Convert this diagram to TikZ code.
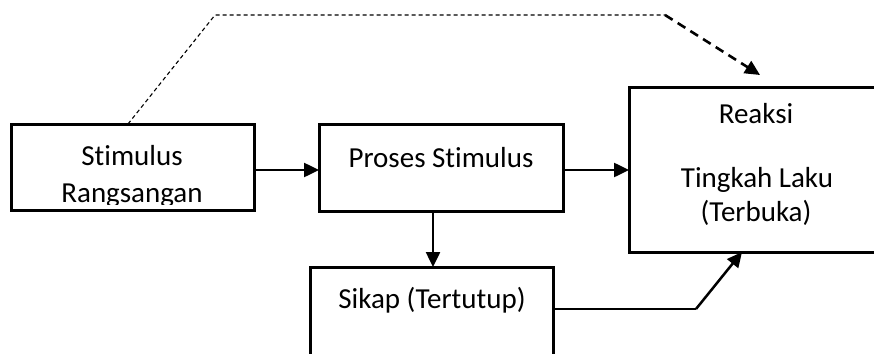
\documentclass[tikz,border=0pt]{standalone}
\usepackage{fontspec}
\setmainfont{Carlito}[Ligatures={NoCommon}]
\usetikzlibrary{arrows.meta}
\begin{document}
\begin{tikzpicture}[x=1pt,y=-1pt,
  box/.style={draw,line width=3pt,rectangle,inner sep=0pt,outer sep=0pt},
  lbl/.style={anchor=base,inner sep=0pt,font=\fontsize{29}{34}\selectfont},
  arr/.style={line width=2.5pt,-{Triangle[length=15pt,width=14pt]}},
  thinl/.style={line width=1.1pt},
  dthin/.style={line width=1.1pt,dash pattern=on 4pt off 3pt},
  darr/.style={line width=2.6pt,dash pattern=on 9pt off 6pt,-{Triangle[length=15pt,width=14pt]}}]
\useasboundingbox (0,0) rectangle (874,353);
\clip (0,0) rectangle (874,353);
% texts
\node[lbl] (t1a) at (132,165) {Stimulus};
\begin{scope}
\clip (0,0) rectangle (874,204);
\node[lbl] (t1b) at (132,202) {Rangsangan};
\end{scope}
\node[lbl] (t2) at (441,167) {Proses Stimulus};
\node[lbl] (t3a) at (756,123) {Reaksi};
\node[lbl] (t3b) at (757,187) {Tingkah Laku};
\node[lbl] (t3c) at (756,221) {(Terbuka)};
\node[lbl] (t4) at (432,308) {Sikap (Tertutup)};
% boxes
\node[box,minimum width=243pt,minimum height=86pt] (b1) at (132.5,167) {};
\node[box,minimum width=244pt,minimum height=87pt] (b2) at (441,167.5) {};
\node[box,minimum width=271pt,minimum height=165pt] (b3) at (764.5,169.5) {};
\node[box,minimum width=243pt,minimum height=133pt] (b4) at (431.5,333.5) {};
% helper coordinates
\coordinate (ha) at (0,170);
\coordinate (hv) at (433,0);
\coordinate (k) at (696,309);
\coordinate (kx) at (742,0);
\coordinate (d0) at (128,0);
\coordinate (d1) at (215,15);
\coordinate (d2) at (665,15);
\coordinate (d3) at (760,75);
% connectors
\draw[arr] (b1.east |- ha) -- (b2.west |- ha);
\draw[arr] (b2.east |- ha) -- (b3.west |- ha);
\draw[arr] (b2.south -| hv) -- (b4.north -| hv);
\draw[thinl] (b4.east |- k) -- (k);
\draw[arr] (k) -- (b3.south -| kx);
\draw[dthin] (b1.north -| d0) -- (d1) -- (d2);
\draw[darr] (d2) -- (d3);
\end{tikzpicture}
\end{document}
